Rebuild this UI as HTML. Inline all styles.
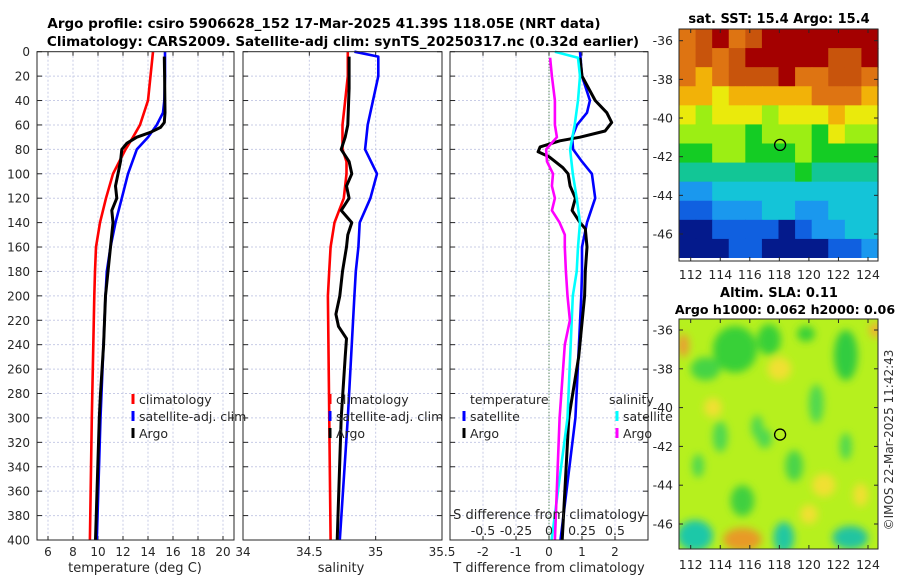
<!DOCTYPE html>
<html><head><meta charset="utf-8"><style>
html,body{margin:0;padding:0;background:#fff}
svg{display:block;font-family:"DejaVu Sans","Liberation Sans",sans-serif}
</style></head><body>
<svg id="c" width="900" height="580" viewBox="0 0 900 580" xmlns="http://www.w3.org/2000/svg">
<text x="324" y="28" font-size="13.5" font-weight="bold" text-anchor="middle">Argo profile: csiro 5906628_152 17-Mar-2025 41.39S 118.05E (NRT data)</text>
<text x="343" y="46" font-size="13.5" font-weight="bold" text-anchor="middle">Climatology: CARS2009. Satellite-adj clim: synTS_20250317.nc (0.32d earlier)</text>
<text x="779" y="23" font-size="13" font-weight="bold" text-anchor="middle">sat. SST: 15.4 Argo: 15.4</text>
<text x="779" y="297" font-size="13" font-weight="bold" text-anchor="middle">Altim. SLA: 0.11</text>
<text x="785" y="314" font-size="12.6" font-weight="bold" text-anchor="middle">Argo h1000: 0.062 h2000: 0.06</text>
<text transform="translate(893,440) rotate(-90)" font-size="12" text-anchor="middle" fill="#333">©IMOS 22-Mar-2025 11:42:43</text>
<g id="plots"></g>
</svg>
<script>
// depths
const depthTicks=[0,20,40,60,80,100,120,140,160,180,200,220,240,260,280,300,320,340,360,380,400];
// Temperature panel
const tClimD=[0,20,40,60,70,80,100,120,140,160,180,200,300,400];
const tClimV=[14.4,14.2,14.0,13.36,12.8,12.2,11.2,10.64,10.16,9.84,9.76,9.7,9.5,9.35];
const tSatD=[0,20,40,50,60,70,80,100,120,140,160,180,200,300,400];
const tSatV=[15.36,15.36,15.3,15.2,14.7,14.0,13.1,12.4,11.9,11.4,11.0,10.7,10.6,10.2,9.9];
const tArgoD=[4,20,50,58,62,66,70,75,80,90,100,110,120,130,140,160,200,240,280,300,400];
const tArgoV=[15.3,15.33,15.36,15.3,15.0,14.2,13.1,12.3,11.9,11.8,11.6,11.4,11.5,11.1,11.2,11.0,10.6,10.45,10.2,10.1,9.8];
const tTicks=[6,8,10,12,14,16,18,20];
// Salinity panel
const sClimD=[0,20,40,60,80,90,100,120,140,160,180,200,400];
const sClimV=[34.79,34.79,34.77,34.75,34.75,34.78,34.78,34.76,34.69,34.66,34.65,34.64,34.66];
const sSatD=[0,4,20,40,60,80,100,120,140,160,180,200,300,400];
const sSatV=[34.84,35.02,35.02,34.98,34.94,34.92,35.01,34.96,34.88,34.87,34.85,34.84,34.79,34.73];
const sArgoD=[4,30,60,70,80,90,100,110,120,130,140,150,160,180,200,215,225,235,250,300,400];
const sArgoV=[34.80,34.80,34.79,34.77,34.74,34.80,34.82,34.78,34.80,34.74,34.82,34.79,34.78,34.75,34.73,34.70,34.72,34.78,34.77,34.74,34.71];
const sTicks=[34,34.5,35,35.5];
// Difference panel
const dTSatD=[0,20,40,50,60,70,80,90,100,120,140,160,180,200,300,400];
const dTSatV=[0.94,1.0,1.24,1.15,0.85,0.7,0.73,1.0,1.3,1.4,1.15,1.0,1.0,0.98,0.8,0.35];
const dTArgoD=[5,20,40,50,58,65,70,73,78,82,86,95,100,110,120,130,140,145,160,180,200,250,300,400];
const dTArgoV=[0.94,1.0,1.4,1.75,1.9,1.7,0.94,0.33,-0.27,-0.33,0,0.42,0.58,0.64,0.8,0.7,0.94,1.1,1.15,1.1,1.08,0.9,0.6,0.4];
const dSSatD=[0,5,20,40,60,80,100,120,140,160,180,200,300,400];
const dSSatV=[0.045,0.22,0.235,0.22,0.195,0.16,0.18,0.21,0.235,0.22,0.21,0.18,0.14,0.02];
const dSArgoD=[5,20,40,60,70,80,90,100,110,120,130,140,150,160,180,200,220,240,300,400];
const dSArgoV=[0.008,0.022,0.045,0.045,0.06,-0.022,-0.015,0.03,0.022,0.045,0.022,0.08,0.12,0.12,0.128,0.14,0.158,0.12,0.08,0.045];
const dTTicks=[-2,-1,0,1,2];
const dSTicks=[-0.5,-0.25,0,0.25,0.5];
const dSTickLabels=['-0.5','-0.25','0','0.25','0.5'];
// SST map grid (color class per cell, rows north->south)
const sstRows=["9ab9abbbbbbb","9a9abbbbbaab","989aaab99aa9","887888889998","767776777877","666656665766","556655565555","444444454444","223333333333","112223322333","001111012233","000110000112"];
const sstColors={"0":"#041a8c","1":"#1060e0","2":"#1a98ee","3":"#14c4d8","4":"#12c696","5":"#14cc24","6":"#9cee14","7":"#eaea0c","8":"#f2b208","9":"#de7412","a":"#c8540c","b":"#a40000"};
// SLA map patches
const slaLon=[115,117.3,119.8,122.5,113,111.5,120.5,116.5,114,117,119,122.5,112.5,115.5,112.3,118.3,122.8,115.5,124.5,118,121,113.5,120,123.5];
const slaLat=[-37,-36.5,-36.2,-37.3,-38,-36.8,-39.8,-41,-41.5,-41.6,-43,-42,-43,-44.8,-46.6,-46.7,-46.7,-46.8,-36,-38,-44,-40,-45.5,-44.5];
const slaRx=[1.5,0.8,0.6,0.8,1,0.4,0.5,0.4,0.5,0.5,0.6,0.4,0.4,0.8,1.2,0.7,1.2,1.3,0.4,0.8,0.8,0.6,0.6,0.5];
const slaRy=[1.2,0.8,0.4,1.3,0.6,0.6,1,0.6,0.8,0.5,0.8,0.7,0.6,0.8,0.8,0.8,0.6,0.6,0.4,0.6,0.6,0.5,0.5,0.6];
const slaCol=["#38d038","#38d038","#38d038","#30cc40","#44d444","#e8a030","#50d850","#50d850","#50d850","#50d850","#48d448","#50d850","#50d850","#40d040","#1cc8a8","#20c8a0","#20c4a0","#e89a28","#f0b030","#f0e030","#f0e030","#f0e030","#f0e030","#f0e030"];

const NS='http://www.w3.org/2000/svg';
const root=document.getElementById('plots');
function el(tag,attrs,parent){const e=document.createElementNS(NS,tag);for(const k in attrs)e.setAttribute(k,attrs[k]);(parent||root).appendChild(e);return e;}
function txt(x,y,s,size,anchor,parent){const t=el('text',{x:x,y:y,'font-size':size,'text-anchor':anchor,fill:'#262626'},parent);t.textContent=s;return t;}

const Y0=51.7,Y1=540;
function yD(d){return Y0+(d/400)*(Y1-Y0);}
function makeX(x0,x1,v0,v1){return v=>x0+(v-v0)/(v1-v0)*(x1-x0);}

function panel(name,x0,x1,xs,ticks,labels){
  const g=el('g',{});
  
  
  ticks.forEach(t=>{const x=xs(t);el('line',{x1:x,x2:x,y1:Y0,y2:Y1,stroke:'#c8cce6','stroke-width':1,'stroke-dasharray':'2,2'},g);
    el('line',{x1:x,x2:x,y1:Y1,y2:Y1-4,stroke:'#262626'},g);el('line',{x1:x,x2:x,y1:Y0,y2:Y0+4,stroke:'#262626'},g);});
  depthTicks.forEach(d=>{const y=yD(d);if(d>0&&d<400)el('line',{x1:x0,x2:x1,y1:y,y2:y,stroke:'#c8cce6','stroke-width':1,'stroke-dasharray':'2,2'},g);
    el('line',{x1:x0,x2:x0+5,y1:y,y2:y,stroke:'#262626'},g);el('line',{x1:x1,x2:x1-5,y1:y,y2:y,stroke:'#262626'},g);});
  if(labels){ticks.forEach((t,i)=>{const l=txt(xs(t),556,labels[i],12,'middle',g);});}
  return g;
}
function frame(g,x0,x1){el('rect',{x:x0,y:Y0,width:x1-x0,height:Y1-Y0,fill:'none',stroke:'#262626','stroke-width':1},g);}
function series(g,name,D,V,xs,color,w,dash){
  const pts=D.map((d,i)=>xs(V[i]).toFixed(1)+','+yD(d).toFixed(1)).join(' ');
  const p=el('polyline',{points:pts,fill:'none',stroke:color,'stroke-width':w||2.6,'stroke-linejoin':'round'},g);
  if(dash)p.setAttribute('stroke-dasharray',dash);
  
  
}
function legendEntry(g,x,y,color,label){
  el('line',{x1:x,x2:x,y1:y-10,y2:y,stroke:color,'stroke-width':3},g);
  const t=txt(x+6,y,label,12.5,'start',g);
  
  
}

// Panel 1 temperature
const xT=makeX(37,234,5.12,20.88);
const g1=panel('temperature-panel',37,234,xT,tTicks,tTicks.map(String));
series(g1,'temp-climatology-line',tClimD,tClimV,xT,'#ff0000');
series(g1,'temp-satellite-line',tSatD,tSatV,xT,'#0000ff');
series(g1,'temp-argo-line',tArgoD,tArgoV,xT,'#000000',3);
frame(g1,37,234);
depthTicks.forEach(d=>{const t=txt(30,yD(d)+4.5,String(d),12,'end',g1);});
const xl1=txt(135,572,'temperature (deg C)',13,'middle',g1);
legendEntry(g1,133,404,'#ff0000','climatology');legendEntry(g1,133,421,'#0000ff','satellite-adj. clim');legendEntry(g1,133,438,'#000000','Argo');

// Panel 2 salinity
const xS=makeX(243,442,34,35.5);
const g2=panel('salinity-panel',243,442,xS,sTicks,['34','34.5','35','35.5']);
series(g2,'sal-climatology-line',sClimD,sClimV,xS,'#ff0000');
series(g2,'sal-satellite-line',sSatD,sSatV,xS,'#0000ff');
series(g2,'sal-argo-line',sArgoD,sArgoV,xS,'#000000',3);
frame(g2,243,442);
const xl2=txt(341,572,'salinity',13,'middle',g2);
legendEntry(g2,330,404,'#ff0000','climatology');legendEntry(g2,330,421,'#0000ff','satellite-adj. clim');legendEntry(g2,330,438,'#000000','Argo');

// Panel 3 differences
const xD=makeX(450,648,-3,3);
const xDS=v=>xD(v*4);
const g3=panel('difference-panel',450,648,xD,dTTicks,dTTicks.map(String));
const zl=el('line',{x1:xD(0),x2:xD(0),y1:Y0,y2:Y1,stroke:'#2a6a2a','stroke-width':1,'stroke-dasharray':'1,2'},g3);


series(g3,'tdiff-satellite-line',dTSatD,dTSatV,xD,'#0000ff');
series(g3,'tdiff-argo-line',dTArgoD,dTArgoV,xD,'#000000',3);
series(g3,'sdiff-satellite-line',dSSatD,dSSatV,xDS,'#00ffff');
series(g3,'sdiff-argo-line',dSArgoD,dSArgoV,xDS,'#ff00ff');
frame(g3,450,648);
const xl3=txt(549,572,'T difference from climatology',13,'middle',g3);
const sl=txt(549,519,'S difference from climatology',13,'middle',g3);
dSTicks.forEach((s,i)=>{const t=txt(xDS(s),535,dSTickLabels[i],12.5,'middle',g3);});
const lt=txt(470,404,'temperature',12.5,'start',g3);
const ls=txt(609,404,'salinity',12.5,'start',g3);
legendEntry(g3,464,421,'#0000ff','satellite');legendEntry(g3,464,438,'#000000','Argo');
legendEntry(g3,617,421,'#00ffff','satellite');legendEntry(g3,617,438,'#ff00ff','Argo');

// Maps
const MX0=679,MX1=878;
const lonX=makeX(690.7,868,112,124);
const lonTicks=[112,114,116,118,120,122,124];
const latTicks=[-36,-38,-40,-42,-44,-46];
function mapAxes(g,y0,y1,latY,labY){
  el('rect',{x:MX0,y:y0,width:MX1-MX0,height:y1-y0,fill:'none',stroke:'#262626'},g);
  lonTicks.forEach(l=>{const x=lonX(l);el('line',{x1:x,x2:x,y1:y1,y2:y1-4,stroke:'#262626'},g);el('line',{x1:x,x2:x,y1:y0,y2:y0+4,stroke:'#262626'},g);
    const t=txt(x,labY,String(l),12.5,'middle',g);});
  latTicks.forEach(l=>{const y=latY(l);el('line',{x1:MX0,x2:MX0+4,y1:y,y2:y,stroke:'#262626'},g);el('line',{x1:MX1,x2:MX1-4,y1:y,y2:y,stroke:'#262626'},g);
    const t=txt(673,y+4.5,String(l),12.5,'end',g);});
}
// SST map
const latY1=makeX(40.7,234,-36,-46);
const gm1=el('g',{});


const top1=29,bot1=258,cw=(MX1-MX0)/12,rh=(bot1-top1)/12;
sstRows.forEach((row,r)=>{row.split('').forEach((c,k)=>{el('rect',{x:MX0+k*cw,y:top1+r*rh,width:cw+0.6,height:rh+0.6,fill:sstColors[c]},gm1);});});
el('rect',{x:MX0,y:258,width:MX1-MX0,height:3,fill:'#fff'},gm1);
const c1=el('circle',{cx:lonX(118.05),cy:latY1(-41.39),r:5.5,fill:'none',stroke:'#000','stroke-width':1.3},gm1);


mapAxes(gm1,29,261,latY1,279);
// SLA map
const latY2=makeX(330,524,-36,-46);
const gm2=el('g',{});


const defs=el('defs',{},gm2);
const f=el('filter',{id:'bl',x:'-50%',y:'-50%',width:'200%',height:'200%'},defs);
el('feGaussianBlur',{stdDeviation:4},f);
const cp=el('clipPath',{id:'cp2'},defs);
el('rect',{x:MX0,y:319,width:MX1-MX0,height:230},cp);
const inner=el('g',{'clip-path':'url(#cp2)'},gm2);
el('rect',{x:MX0,y:319,width:MX1-MX0,height:230,fill:'#b6f01e'},inner);
const blobs=el('g',{filter:'url(#bl)'},inner);
slaLon.forEach((lo,i)=>{const e=el('ellipse',{cx:lonX(lo),cy:latY2(slaLat[i]),rx:slaRx[i]*14.8,ry:slaRy[i]*19.4,fill:slaCol[i]},blobs);
  
  });
const c2=el('circle',{cx:lonX(118.05),cy:latY2(-41.39),r:5.5,fill:'none',stroke:'#000','stroke-width':1.3},gm2);


mapAxes(gm2,319,549,latY2,569);
</script>
</body></html>
